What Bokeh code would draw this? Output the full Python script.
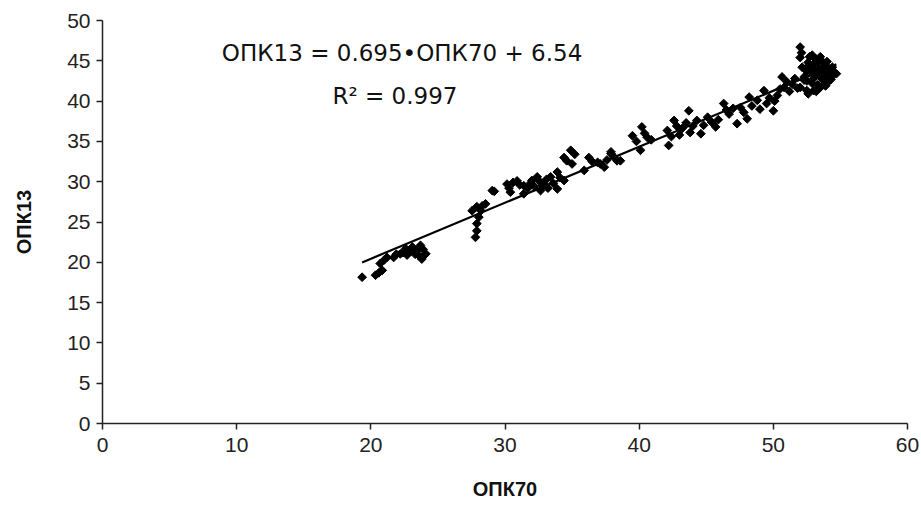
import numpy as np
from bokeh.plotting import figure
from bokeh.models import Range1d, FixedTicker, Label
from bokeh.embed import file_html
from bokeh.resources import INLINE

# ---- data ----
x_opk70 = [
    19.35, 20.35, 20.6, 20.85, 20.7, 21.0, 21.2, 21.7, 21.9, 22.2, 22.6, 22.4, 22.9, 23.1, 23.3,
    23.45, 23.6, 23.7, 23.8, 24.0, 24.1, 23.9, 22.7,
    27.8, 27.9, 27.9, 28.05, 27.55, 28.2, 27.9, 28.55, 28.3, 29.05, 29.2,
    30.15, 30.4, 30.3, 30.6, 30.9, 31.1, 31.4, 31.4, 31.7, 31.9, 32.0, 32.2, 32.4, 32.6, 32.65,
    32.8, 32.9, 33.1, 33.4, 33.6, 33.9, 33.9, 34.1, 34.4, 33.2,
    34.4, 34.6, 34.9, 35.0, 35.2, 35.9, 36.25, 36.5, 36.9, 37.1, 37.4, 37.6, 37.9, 37.9, 38.35,
    38.6, 38.1,
    39.5, 39.8, 40.1, 40.2, 40.4, 40.6, 40.9,
    42.1, 42.2, 42.4, 42.6, 42.8, 43.0, 43.2, 43.5, 43.7, 43.8, 44.0, 44.3, 44.6, 44.8, 45.1,
    45.4, 45.7, 45.9,
    46.3, 46.5, 46.7, 47.0, 47.3, 47.55, 47.8, 48.05, 48.2, 48.4, 48.8, 49.0, 49.3, 49.5, 49.7,
    50.0, 50.1,
    50.3, 50.5, 50.65, 50.8, 51.0, 51.2, 51.4, 51.6, 51.8, 52.0,
    52.0, 52.0, 52.1, 52.15, 52.3, 52.5, 52.5, 52.6, 52.8, 52.9, 53.0, 53.0, 53.1, 53.2, 53.3,
    53.4, 53.5, 53.5, 53.6, 53.7, 53.8, 53.9, 54.0, 54.1, 54.2, 54.3, 54.5, 53.3, 52.7, 53.9,
    52.4, 54.7, 54.4, 54.0, 53.5, 52.9, 54.3, 53.8, 53.2, 52.6,
    52.8, 53.1, 53.4, 53.6, 53.9, 54.2, 52.5, 53.0, 53.7, 52.3,
]
y_opk13 = [
    18.15, 18.4, 18.7, 19.0, 19.85, 20.3, 20.6, 20.6, 21.0, 21.05, 21.7, 21.2, 21.3, 21.9, 21.0,
    21.5, 20.8, 22.1, 20.4, 20.9, 21.05, 21.6, 20.9,
    23.1, 23.9, 24.8, 25.6, 26.4, 26.4, 26.9, 27.25, 27.0, 28.9, 28.8,
    29.7, 28.7, 29.2, 29.9, 30.1, 29.6, 29.5, 28.5, 29.2, 29.8, 30.15, 29.4, 30.6, 30.0, 28.9,
    29.5, 29.7, 30.3, 30.6, 29.8, 31.2, 29.1, 30.5, 30.15, 29.2,
    33.0, 32.6, 33.9, 32.2, 33.4, 31.4, 33.0, 32.5, 32.4, 32.2, 31.8, 32.7, 33.7, 33.5, 32.6,
    32.6, 33.1,
    35.7, 35.0, 33.9, 36.8, 36.0, 35.5, 35.2,
    36.35, 34.5, 35.6, 37.6, 36.9, 35.8, 36.6, 37.3, 38.8, 36.1, 36.9, 37.6, 35.95, 37.0, 38.0,
    37.4, 36.8, 37.7,
    39.7, 38.9, 38.4, 39.1, 37.2, 39.2, 38.6, 37.8, 40.5, 39.4, 40.1, 39.0, 41.3, 39.7, 40.4,
    38.8, 40.0,
    40.7, 41.5, 43.0, 41.7, 42.4, 41.2, 42.1, 42.8, 41.6, 41.7,
    46.7, 45.4, 46.0, 44.2, 43.0, 41.3, 42.5, 44.8, 43.6, 42.2, 44.6, 41.3, 45.3, 43.2, 42.0,
    44.0, 43.0, 41.7, 45.0, 42.6, 44.4, 43.4, 44.2, 42.4, 43.8, 43.0, 43.6, 44.8, 45.5, 41.9,
    44.0, 43.4, 44.2, 44.9, 45.5, 45.7, 42.7, 42.0, 41.2, 40.9,
    44.1, 43.9, 43.5, 43.8, 43.1, 44.0, 43.7, 42.8, 43.3, 42.6,
]
trend_slope = 0.695
trend_intercept = 6.54
trend_r2 = 0.997
x_ticks = [0, 10, 20, 30, 40, 50, 60]
y_ticks = [0, 5, 10, 15, 20, 25, 30, 35, 40, 45, 50]
x_title = "ОПК70"
y_title = "ОПК13"

FONT = "Liberation Sans"
EQ_FONT = "DejaVu Sans"

p = figure(width=921, height=520, output_backend="svg", toolbar_location=None,
           x_range=Range1d(0, 60), y_range=Range1d(0, 50),
           min_border_left=102, min_border_right=14, min_border_top=20, min_border_bottom=97)
p.outline_line_color = None
p.grid.visible = False
p.background_fill_color = "white"
p.border_fill_color = "white"

for ax, ticks in ((p.xaxis, x_ticks), (p.yaxis, y_ticks)):
    ax.ticker = FixedTicker(ticks=ticks)
    ax.minor_tick_line_color = None
    ax.major_tick_in = 0
    ax.major_tick_out = 6
    ax.axis_line_color = "#222222"
    ax.major_tick_line_color = "#222222"
    ax.axis_line_width = 1.5
    ax.major_tick_line_width = 1.5
    ax.major_label_text_font = FONT
    ax.major_label_text_font_size = "21px"
    ax.major_label_text_color = "#222222"
    ax.axis_label_text_font = FONT
    ax.axis_label_text_font_size = "20px"
    ax.axis_label_text_font_style = "bold"
    ax.axis_label_text_color = "#111111"

p.xaxis.axis_label = x_title
p.yaxis.axis_label = y_title
p.xaxis.major_label_standoff = 8
p.yaxis.major_label_standoff = 6
p.xaxis.axis_label_standoff = 23
p.yaxis.axis_label_standoff = 29

# trend line over the data extent
xs = np.array([min(x_opk70), max(x_opk70)])
p.line(xs, trend_slope * xs + trend_intercept, line_color="black", line_width=2.2)

p.scatter(x_opk70, y_opk13, marker="square", angle=np.pi / 4, size=6.2,
          fill_color="black", line_color="black")

eq = f"{y_title} = {trend_slope}\u2022{x_title}  + {trend_intercept}"
p.add_layout(Label(x=22.6, y=46.0, text=eq, text_align="center", text_baseline="middle",
                   text_font=EQ_FONT, text_font_size="23px", text_color="#111111"))
p.add_layout(Label(x=21.8, y=40.6, text=f"R\u00b2 = {trend_r2}", text_align="center",
                   text_baseline="middle", text_font=EQ_FONT, text_font_size="23px",
                   text_color="#111111"))

open("out.html", "w").write(file_html(p, INLINE))
